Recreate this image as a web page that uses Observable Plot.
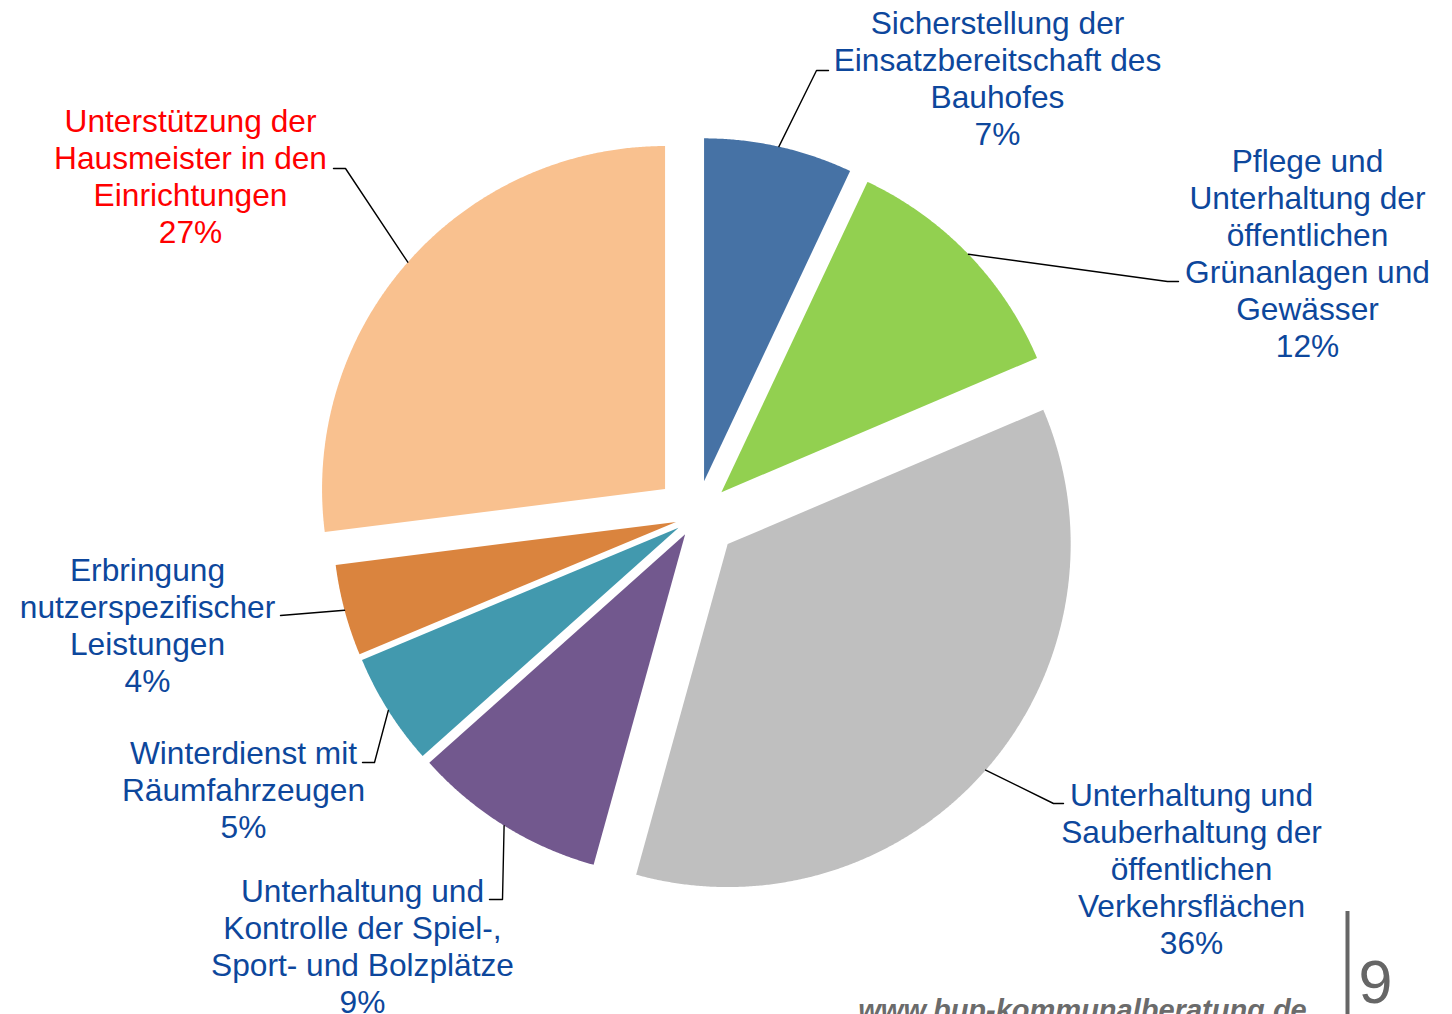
<!DOCTYPE html>
<html>
<head>
<meta charset="utf-8">
<script src="https://cdn.jsdelivr.net/npm/d3@7"></script>
<script src="https://cdn.jsdelivr.net/npm/@observablehq/plot@0.6"></script>
<style>
  html, body { margin: 0; padding: 0; background: #ffffff; }
  #chart svg { display: block; }
</style>
</head>
<body>
<div id="chart"></div>
<script>
// ---- data ----
const categories = [
  "Sicherstellung der\nEinsatzbereitschaft des\nBauhofes",
  "Pflege und\nUnterhaltung der\nöffentlichen\nGrünanlagen und\nGewässer",
  "Unterhaltung und\nSauberhaltung der\nöffentlichen\nVerkehrsflächen",
  "Unterhaltung und\nKontrolle der Spiel-,\nSport- und Bolzplätze",
  "Winterdienst mit\nRäumfahrzeugen",
  "Erbringung\nnutzerspezifischer\nLeistungen",
  "Unterstützung der\nHausmeister in den\nEinrichtungen"
];
const values = [7.0, 11.6, 35.7, 9.1, 5.3, 4.3, 27.0];
const sliceColors = ["#4672A5", "#92D050", "#BFBFBF", "#72588E", "#4299AE", "#DA843E", "#F9C18F"];
const labelColors = ["#0D479C", "#0D479C", "#0D479C", "#0D479C", "#0D479C", "#0D479C", "#FF0000"];
const explode = [0.105, 0.102, 0.122, 0.061, 0.061, 0.061, 0.121]; // fraction of radius

// ---- layout ----
const W = 1452, H = 1014;
const cx = 695.7, cy = 516, R = 343;
const labelX = [997, 1307, 1191, 362, 243, 147, 190];
const labelLastBaseline = [144, 356, 953, 1012, 837, 691, 242];
const elbow = [[816, 70], [1167, 281], [1053, 803], [502, 899], [374, 762], [280, 615], [345, 168]];
const leaderEnd = [[828, 70], [1178, 281], [1063, 803], [489, 899], [362, 762], [280, 615], [333, 168]];
const fontSize = 31.7, lineHeight = 37 / 31.7;

// ---- geometry from the values ----
const arcs = d3.pie().sort(null).value(d => d)(values);
const slicePts = [];
const leaderPts = [];
const labels = [];
arcs.forEach((p, i) => {
  const mid = (p.startAngle + p.endAngle) / 2;
  const off = explode[i] * R;
  const ax = cx + off * Math.sin(mid), ay = cy - off * Math.cos(mid);
  slicePts.push({k: i, x: ax, y: ay, c: sliceColors[i]});
  const n = Math.max(2, Math.ceil((p.endAngle - p.startAngle) / 0.005));
  for (let j = 0; j <= n; j++) {
    const a = p.startAngle + (p.endAngle - p.startAngle) * j / n;
    slicePts.push({k: i, x: ax + R * Math.sin(a), y: ay - R * Math.cos(a), c: sliceColors[i]});
  }
  slicePts.push({k: i, x: ax, y: ay, c: sliceColors[i]});

  leaderPts.push({k: i, x: ax + R * Math.sin(mid), y: ay - R * Math.cos(mid)});
  leaderPts.push({k: i, x: elbow[i][0], y: elbow[i][1]});
  leaderPts.push({k: i, x: leaderEnd[i][0], y: leaderEnd[i][1]});

  labels.push({
    x: labelX[i],
    y: labelLastBaseline[i],
    text: categories[i] + "\n" + Math.round(values[i]) + "%",
    c: labelColors[i]
  });
});

const chart = Plot.plot({
  width: W,
  height: H,
  margin: 0,
  x: {domain: [0, W], range: [0, W], axis: null},
  y: {domain: [0, H], range: [0, H], axis: null},
  color: {type: "identity"},
  style: {fontFamily: "'Liberation Sans', Arial, sans-serif", background: "#ffffff", overflow: "hidden"},
  marks: [
    Plot.line(slicePts, {x: "x", y: "y", z: "k", fill: "c", stroke: "none", curve: "linear"}),
    Plot.line(leaderPts, {x: "x", y: "y", z: "k", stroke: "#000000", strokeWidth: 1.4, curve: "linear"}),
    Plot.text(labels, {
      x: "x", y: "y", text: "text", fill: "c",
      fontSize: fontSize, lineHeight: lineHeight,
      textAnchor: "middle", lineAnchor: "bottom"
    }),
    Plot.ruleX([1347], {y1: 911, y2: 1014, stroke: "#666666", strokeWidth: 4}),
    Plot.text(["9"], {x: 1375, y: 1002, text: d => d, fontSize: 61, fill: "#666666", textAnchor: "middle", lineAnchor: "bottom"}),
    Plot.text(["www.bup-kommunalberatung.de"], {
      x: 1082, y: 1019, text: d => d, fontSize: 29, fontWeight: "bold", fontStyle: "italic",
      fill: "#6B6B6B", textAnchor: "middle", lineAnchor: "bottom"
    })
  ]
});
document.getElementById("chart").appendChild(chart);
</script>
</body>
</html>
